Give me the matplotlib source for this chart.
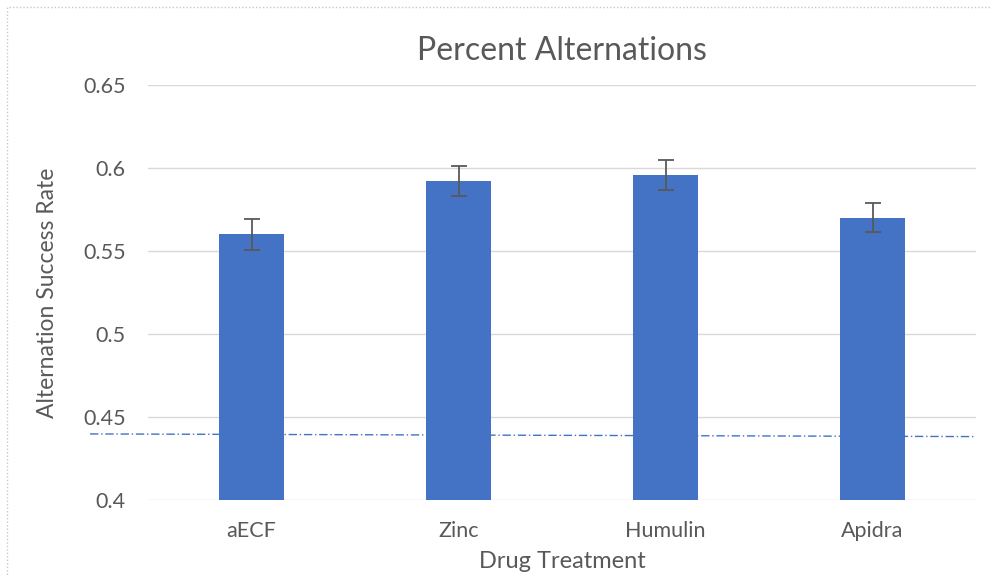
import matplotlib.pyplot as plt
from matplotlib.patches import Rectangle

plt.rcParams['font.family'] = ['Lato', 'DejaVu Sans']

treatments = ['aECF', 'Zinc', 'Humulin', 'Apidra']
success_rate = [0.560, 0.592, 0.596, 0.570]
errors = [0.0092, 0.0090, 0.0090, 0.0088]
# dash-dot reference line (left end, right end)
ref_x = [-0.78, 3.5]
ref_y = [0.4398, 0.4382]

text_col = '#595959'
bar_col = '#4472C4'

fig = plt.figure(figsize=(9.92, 5.77), dpi=100)
ax = fig.add_axes([148 / 992, 1 - 500 / 577, 828 / 992, 415 / 577])

x = range(len(treatments))
ax.bar(x, success_rate, width=0.315, color=bar_col, zorder=3)
ax.errorbar(x, success_rate, yerr=errors, fmt='none', ecolor=text_col,
            elinewidth=1.3, capsize=6, capthick=1.3, zorder=4)
ax.plot(ref_x, ref_y, color=bar_col, linestyle=(0, (6, 2, 1, 2)), linewidth=1,
        clip_on=False, zorder=2)

ax.set_xlim(-0.5, 3.5)
ax.set_ylim(0.4, 0.65)
ax.set_yticks([0.4, 0.45, 0.5, 0.55, 0.6, 0.65])
ax.set_yticklabels(['0.4', '0.45', '0.5', '0.55', '0.6', '0.65'])
ax.set_xticks(list(x))
ax.set_xticklabels(treatments)
ax.grid(axis='y', color='#D9D9D9', linewidth=1, zorder=0)
for s in ax.spines.values():
    s.set_visible(False)
ax.tick_params(length=0, labelsize=15.5, colors=text_col)
ax.tick_params(axis='y', pad=16)
ax.tick_params(axis='x', pad=15)

ax.set_title('Percent Alternations', fontsize=23, color=text_col, pad=18)
ax.set_xlabel('Drug Treatment', fontsize=17, color=text_col, labelpad=7)
ax.set_ylabel('Alternation Success Rate', fontsize=16.5, color=text_col, labelpad=18)

# dotted chart border
fig.patches.append(Rectangle((7 / 992, -0.01), 1.2, 1 - 7 / 577 + 0.01,
                             transform=fig.transFigure, fill=False,
                             edgecolor='#C8C8C8', linestyle=(0, (1, 1.5)),
                             linewidth=1))

fig.savefig('out.png', dpi=100)
